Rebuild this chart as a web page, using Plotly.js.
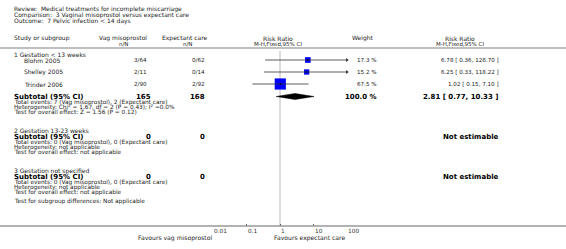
<!DOCTYPE html>
<html>
<head>
<meta charset="utf-8">
<script src="https://cdn.plot.ly/plotly-3.0.1.min.js"></script>
<style>html,body{margin:0;padding:0;background:#fff;}#chart{width:566px;height:249px;}</style>
</head>
<body>
<div id="chart"></div>
<script>
// ---------- data ----------
const studies = ['Blohm 2005', 'Shelley 2005', 'Trinder 2006'];
const vagEvents = [3, 2, 2];
const vagTotal = [64, 11, 90];
const expEvents = [0, 0, 2];
const expTotal = [62, 14, 92];
const weights = [17.3, 15.2, 67.5];
const riskRatio = [6.78, 6.25, 1.02];
const ciLow = [0.36, 0.33, 0.15];
const ciHigh = [128.70, 118.22, 7.10];
const subtotalRR = 2.81, subtotalLow = 0.77, subtotalHigh = 10.33;
const subtotalVag = [165, 0, 0];
const subtotalExp = [168, 0, 0];
const subgroupNames = ['1 Gestation < 13 weeks', '2 Gestation 13-23 weeks', '3 Gestation not specified'];
const tickVals = [0.01, 0.1, 1, 10, 100];
const tickText = ['0.01', '0.1', '1', '10', '100'];

// ---------- layout helpers ----------
const W = 566, H = 249;
const FONT = 'DejaVu Sans, Verdana, sans-serif';
const px = x => x / W;
const ann = [];
function T(text, x, y, anchor, size, bold, color) {
  ann.push({
    text: bold ? '<b>' + text + '</b>' : text,
    xref: 'paper', yref: 'y', x: px(x), y: y,
    xanchor: anchor || 'left', yanchor: 'middle', showarrow: false, borderpad: 0,
    font: {family: FONT, size: size || 6, color: color || '#222'}
  });
}

// header
T('Review:  Medical treatments for incomplete miscarriage', 13, 9, 'left', 6);
T('Comparison:  3 Vaginal misoprostol versus expectant care', 13, 15, 'left', 6);
T('Outcome:  7 Pelvic infection < 14 days', 13, 21, 'left', 6);
T('Study or subgroup', 13, 38, 'left', 6);
T('Vag misoprostol', 123, 38, 'center', 6);
T('n/N', 123, 44, 'center', 5.5);
T('Expectant care', 185, 38, 'center', 6);
T('n/N', 187, 44, 'center', 5.5);
T('Risk Ratio', 278, 38, 'center', 6);
T('M-H,Fixed,95% CI', 278, 44, 'center', 5.5);
T('Weight', 363, 38, 'center', 6);
T('Risk Ratio', 460, 38, 'center', 6);
T('M-H,Fixed,95% CI', 460, 44, 'center', 5.5);

// row positions
const studyY = [60, 72, 84];
const groupY = [54, 130.5, 170.5];
const subY = [96.5, 137, 177];

studies.forEach((s, i) => {
  T(s, 23, studyY[i], 'left', 6);
  T(vagEvents[i] + '/' + vagTotal[i], 148, studyY[i], 'right', 5.6);
  T(expEvents[i] + '/' + expTotal[i], 206, studyY[i], 'right', 5.6);
  T(weights[i].toFixed(1) + ' %', 378, studyY[i], 'right', 5.6);
  T(riskRatio[i].toFixed(2) + ' [ ' + ciLow[i].toFixed(2) + ', ' + ciHigh[i].toFixed(2) + ' ]', 500, studyY[i], 'right', 5.6);
});

const totalEvents = [
  'Total events: ' + vagEvents.reduce((a, b) => a + b, 0) + ' (Vag misoprostol), ' + expEvents.reduce((a, b) => a + b, 0) + ' (Expectant care)',
  'Total events: 0 (Vag misoprostol), 0 (Expectant care)',
  'Total events: 0 (Vag misoprostol), 0 (Expectant care)'
];
const hetero = ['Heterogeneity: Chi<sup>2</sup> = 1.67, df = 2 (P = 0.43); I<sup>2</sup> =0.0%', 'Heterogeneity: not applicable', 'Heterogeneity: not applicable'];
const overall = ['Test for overall effect: Z = 1.56 (P = 0.12)', 'Test for overall effect: not applicable', 'Test for overall effect: not applicable'];

subgroupNames.forEach((g, k) => {
  T(g, 13, groupY[k], 'left', 6);
  T('Subtotal (95% CI)', 13, subY[k], 'left', 7, true, '#000');
  T(String(subtotalVag[k]), 152, subY[k], 'right', 7, true, '#000');
  T(String(subtotalExp[k]), 206, subY[k], 'right', 7, true, '#000');
  const fy = subY[k] + 5.7;
  T(totalEvents[k], 13, fy, 'left', 5.8);
  T(hetero[k], 13, fy + 5.1, 'left', 5.8);
  T(overall[k], 13, fy + 10.2, 'left', 5.8);
});
T('100.0 %', 378, subY[0], 'right', 7, true, '#000');
T(subtotalRR.toFixed(2) + ' [ ' + subtotalLow.toFixed(2) + ', ' + subtotalHigh.toFixed(2) + ' ]', 500, subY[0], 'right', 7, true, '#000');
T('Not estimable', 500, subY[1], 'right', 7, true, '#000');
T('Not estimable', 500, subY[2], 'right', 7, true, '#000');
T('Test for subgroup differences: Not applicable', 13, 201, 'left', 5.8);
T('Favours vag misoprostol', 213, 237.5, 'right', 6.1);
T('Favours expectant care', 346, 237.5, 'right', 6.1);

// tick labels, left-aligned at their ticks
tickVals.forEach((v, i) => {
  ann.push({
    text: tickText[i], xref: 'x', yref: 'y', x: Math.log10(v), y: 230.5,
    xanchor: 'left', yanchor: 'middle', showarrow: false, borderpad: 0,
    font: {family: FONT, size: 5.8, color: '#333'}
  });
});

// ---------- traces ----------
const traces = [];
// line of no effect
traces.push({x: [1, 1], y: [51, 226], mode: 'lines', line: {color: '#d0d0d0', width: 1.5}, hoverinfo: 'skip'});
// squares
traces.push({
  x: riskRatio, y: studyY, mode: 'markers',
  marker: {symbol: 'square', color: '#0000ff', opacity: 1, size: weights.map(w => 1.36 * Math.sqrt(w)), line: {width: 0}},
  hoverinfo: 'skip'
});
// CI lines
const lx = [], ly = [];
studies.forEach((s, i) => { lx.push(ciLow[i], ciHigh[i], null); ly.push(studyY[i], studyY[i], null); });
traces.push({x: lx, y: ly, mode: 'lines', line: {color: '#333', width: 0.8}, hoverinfo: 'skip'});
// tiny centre point
traces.push({x: riskRatio, y: studyY, mode: 'markers', marker: {symbol: 'circle', color: '#000', size: 1.5, opacity: 1}, hoverinfo: 'skip'});
// arrows for clipped CIs
const ax = [], ay = [];
studies.forEach((s, i) => { if (ciHigh[i] > 100) { ax.push(100); ay.push(studyY[i]); } });
traces.push({x: ax, y: ay, mode: 'markers', cliponaxis: false,
  marker: {symbol: 'triangle-right', color: '#333', size: 3.5, opacity: 1}, hoverinfo: 'skip'});
// diamond
traces.push({
  x: [subtotalLow, subtotalRR, subtotalHigh, subtotalRR, subtotalLow],
  y: [subY[0], subY[0] - 3, subY[0], subY[0] + 3, subY[0]],
  mode: 'lines', fill: 'toself', fillcolor: '#000', line: {color: '#000', width: 0.5}, hoverinfo: 'skip'
});

const layout = {
  width: W, height: H,
  margin: {l: 0, r: 0, t: 0, b: 0},
  paper_bgcolor: '#fff', plot_bgcolor: 'rgba(0,0,0,0)',
  showlegend: false,
  xaxis: {
    type: 'log', range: [-2, 2], domain: [213 / W, 347 / W],
    anchor: 'free', position: 1 - 226 / H,
    showline: false, showgrid: false, zeroline: false,
    ticks: 'inside', ticklen: 2.5, tickwidth: 1, tickcolor: '#555',
    tickvals: tickVals, showticklabels: false, fixedrange: true
  },
  yaxis: {range: [H, 0], domain: [0, 1], visible: false, fixedrange: true},
  shapes: [
    {type: 'line', xref: 'paper', yref: 'y', x0: 0, x1: 1, y0: 48, y1: 48, line: {color: '#aaa', width: 1.5}},
    {type: 'line', xref: 'paper', yref: 'y', x0: 0, x1: 1, y0: 226, y1: 226, line: {color: '#999', width: 1.5}}
  ],
  annotations: ann
};

Plotly.newPlot('chart', traces, layout, {staticPlot: true, displayModeBar: false});
</script>
</body>
</html>
